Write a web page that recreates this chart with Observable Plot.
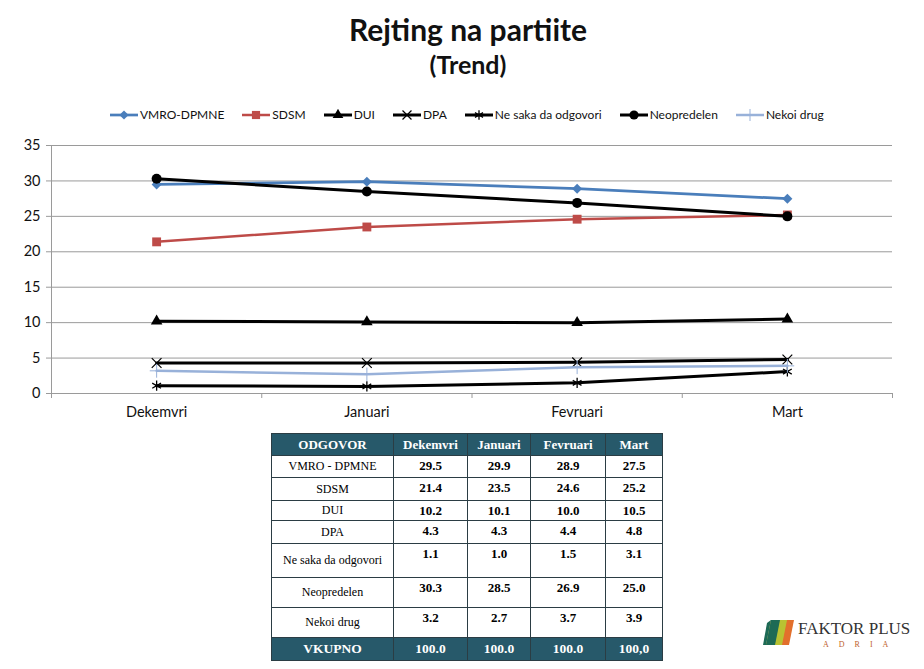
<!DOCTYPE html>
<html>
<head>
<meta charset="utf-8">
<script src="https://cdn.jsdelivr.net/npm/d3@7"></script>
<script src="https://cdn.jsdelivr.net/npm/@observablehq/plot@0.6"></script>
<style>
  html, body { margin: 0; padding: 0; background: #fff; }
  #root { position: relative; width: 924px; height: 669px; overflow: hidden; font-family: Lato, "Open Sans", sans-serif; }
  #title { position: absolute; left: 0; width: 936px; top: 10px; text-align: center; font-weight: bold; font-size: 30px; color: #111; line-height: 38px; }
  #subtitle { position: absolute; left: 0; width: 936px; top: 49px; text-align: center; font-weight: bold; font-size: 25px; color: #111; line-height: 30px; }
  #legend { position: absolute; left: 110px; top: 107px; display: flex; gap: 18px; font-size: 12px; color: #111; white-space: nowrap; }
  #legend .item { display: flex; align-items: center; gap: 2px; }
  #chart { position: absolute; left: 0; top: 130px; }
  #tbl { position: absolute; left: 271px; top: 433px; width: 391px; table-layout: fixed; border-collapse: collapse; font-family: "Liberation Serif", "DejaVu Serif", serif; font-size: 12px; color: #000; }
  #tbl td, #tbl th { box-sizing: border-box; border: 1px solid #2b3d44; padding: 0 1px; text-align: center; overflow: hidden; white-space: nowrap; }
  #tbl th { background: #27596a; color: #fff; font-weight: bold; height: 22px; font-size: 13px; }
  #tbl tr.total td { background: #27596a; color: #fff; font-weight: bold; height: 23px; font-size: 13.5px; }
  #tbl td.val { font-weight: bold; vertical-align: top; padding-top: 2px; font-size: 13px; }
  #tbl td.lab { vertical-align: middle; }
  #logo { position: absolute; left: 763px; top: 618px; width: 160px; height: 30px; }
  #logo .name { position: absolute; left: 35px; top: 1px; font-family: "Liberation Serif", serif; font-size: 17px; color: #333; white-space: nowrap; }
  #logo .adria { position: absolute; left: 60px; top: 22px; font-family: "Liberation Serif", serif; font-size: 8px; color: #c0612b; letter-spacing: 10px; white-space: nowrap; }
</style>
</head>
<body>
<div id="root">
  <div id="title">Rejting na partiite</div>
  <div id="subtitle">(Trend)</div>
  <div id="legend"></div>
  <div id="chart"></div>
  <table id="tbl"></table>
  <div id="logo">
    <svg width="34" height="28" style="position:absolute;left:0;top:2px">
      <polygon points="8,0 31,0 26,25 3,25" fill="#e26f2c"/>
      <polygon points="8,0 24,0 19,25 3,25" fill="#b9c232"/>
      <polygon points="8,0 17,0 12,25 3,25" fill="#1d6a55"/>
      <polygon points="4,3 8,0 3,25 0,25" fill="#1d6a55"/>
    </svg>
    <div class="name">FAKTOR PLUS</div>
    <div class="adria">ADRIA</div>
  </div>
</div>
<script>
// ---- data ----
const months = ["Dekemvri", "Januari", "Fevruari", "Mart"];
const seriesNames = ["VMRO-DPMNE", "SDSM", "DUI", "DPA", "Ne saka da odgovori", "Neopredelen", "Nekoi drug"];
const tableLabels = ["VMRO - DPMNE", "SDSM", "DUI", "DPA", "Ne saka da odgovori", "Neopredelen", "Nekoi drug"];
const vmro = [29.5, 29.9, 28.9, 27.5];
const sdsm = [21.4, 23.5, 24.6, 25.2];
const dui = [10.2, 10.1, 10.0, 10.5];
const dpa = [4.3, 4.3, 4.4, 4.8];
const neSaka = [1.1, 1.0, 1.5, 3.1];
const neopredelen = [30.3, 28.5, 26.9, 25.0];
const nekoiDrug = [3.2, 2.7, 3.7, 3.9];
const totals = ["100.0", "100.0", "100.0", "100,0"];
const yTicks = [0, 5, 10, 15, 20, 25, 30, 35];

// ---- styles (separate from data) ----
const styles = {
  "VMRO-DPMNE": {color: "#4a7ebb", symbol: "diamond2", filled: true, r: 4.5, sw: 2.7, msw: 0},
  "SDSM": {color: "#be4b48", symbol: "square", filled: true, r: 5, sw: 2.5, msw: 0},
  "DUI": {color: "#000000", symbol: "triangle", filled: true, r: 4.3, sw: 3, msw: 0},
  "DPA": {color: "#000000", symbol: "times", filled: false, r: 4.5, sw: 3, msw: 1.2},
  "Ne saka da odgovori": {color: "#000000", symbol: "asterisk", filled: false, r: 4.8, sw: 3, msw: 1.3},
  "Neopredelen": {color: "#000000", symbol: "circle", filled: true, r: 5, sw: 3, msw: 0},
  "Nekoi drug": {color: "#98b1d9", symbol: "plus", filled: false, r: 4.5, sw: 2.5, msw: 1}
};
const valuesList = [vmro, sdsm, dui, dpa, neSaka, neopredelen, nekoiDrug];
const rows = seriesNames.flatMap((s, k) => months.map((m, i) => ({series: s, month: m, i, value: valuesList[k][i]})));

// ---- chart ----
const marks = [
  Plot.gridY(yTicks, {stroke: "#9a9a9a", strokeOpacity: 1, strokeWidth: 1}),
  Plot.ruleX([-0.5], {stroke: "#9a9a9a", strokeWidth: 1}),
  Plot.axisY({ticks: yTicks, tickSize: 5, tickPadding: 6, fontSize: 14.5, stroke: "#9a9a9a", color: "#111", label: null, tickFormat: d => String(d)}),
  Plot.axisX({ticks: d3.range(months.length + 1).map(i => i - 0.5), tickSize: 5, tickFormat: () => "", stroke: "#9a9a9a", label: null}),
  Plot.axisX({ticks: d3.range(months.length), tickSize: 0, tickPadding: 13, fontSize: 14.5, color: "#111", tickFormat: i => months[i], label: null})
];
for (const s of seriesNames) {
  const st = styles[s];
  const d = rows.filter(r => r.series === s);
  marks.push(Plot.line(d, {x: "i", y: "value", stroke: st.color, strokeWidth: st.sw}));
  marks.push(Plot.dot(d, {
    x: "i", y: "value", symbol: () => st.symbol, r: st.r,
    fill: st.filled ? st.color : "none",
    stroke: st.filled ? "none" : st.color,
    strokeWidth: st.msw
  }));
}
const chart = Plot.plot({
  width: 924, height: 300,
  marginTop: 15, marginBottom: 37, marginLeft: 51, marginRight: 32,
  style: {fontFamily: "Lato, 'Open Sans', sans-serif", background: "transparent"},
  x: {type: "linear", domain: [-0.5, months.length - 0.5], axis: null},
  y: {domain: [0, 35], axis: null},
  symbol: {type: "identity"},
  marks
});
document.getElementById("chart").appendChild(chart);

// ---- legend ----
const legend = d3.select("#legend");
const symMap = {diamond2: d3.symbolDiamond2, square: d3.symbolSquare, triangle: d3.symbolTriangle,
  times: d3.symbolTimes, asterisk: d3.symbolAsterisk, circle: d3.symbolCircle, plus: d3.symbolPlus};
for (const s of seriesNames) {
  const st = styles[s];
  const item = legend.append("div").attr("class", "item");
  const svg = item.append("svg").attr("width", 28).attr("height", 12);
  svg.append("line").attr("x1", 0).attr("x2", 28).attr("y1", 6).attr("y2", 6)
    .attr("stroke", st.color).attr("stroke-width", st.sw);
  svg.append("path").attr("transform", "translate(14,6)")
    .attr("d", d3.symbol(symMap[st.symbol], Math.PI * st.r * st.r * 0.85)())
    .attr("fill", st.filled ? st.color : "none")
    .attr("stroke", st.filled ? "none" : st.color).attr("stroke-width", st.msw);
  item.append("span").text(s);
}

// ---- table ----
const tbl = d3.select("#tbl");
const colW = [122, 74, 63, 75, 57];
const rowH = [22, 23, 20, 23, 34, 30, 30];
const head = tbl.append("tr");
["ODGOVOR", ...months].forEach((h, j) => head.append("th").style("width", colW[j] + "px").text(h));
tableLabels.forEach((lab, k) => {
  const tr = tbl.append("tr").style("height", rowH[k] + "px");
  tr.append("td").attr("class", "lab").text(lab);
  valuesList[k].forEach(v => tr.append("td").attr("class", "val").text(v.toFixed(1)));
});
const tot = tbl.append("tr").attr("class", "total");
tot.append("td").text("VKUPNO");
totals.forEach(t => tot.append("td").text(t));
</script>
</body>
</html>
